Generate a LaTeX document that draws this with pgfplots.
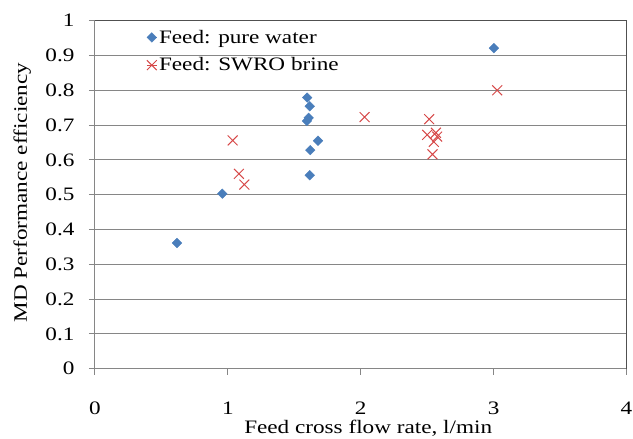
\documentclass[border=0pt]{standalone}
\usepackage{pgfplots}
\pgfplotsset{compat=1.18}
\usepackage{fontspec}
\setmainfont{Liberation Serif}[FakeStretch=1.22]
\definecolor{xlblue}{RGB}{74,126,187}
\definecolor{xlred}{RGB}{214,72,72}
\definecolor{gridgray}{RGB}{134,134,134}
\definecolor{framegray}{RGB}{80,80,80}
\begin{document}
\begin{tikzpicture}
\useasboundingbox (-95pt,-70.3pt) rectangle (538pt,368.7pt);
\begin{axis}[
  at={(0,0)}, anchor=south west,
  scale only axis,
  width=531.5pt, height=348pt,
  xmin=0, xmax=4, ymin=0, ymax=1,
  xtick={0,1,2,3,4},
  ytick={0,0.1,...,1.0},
  yticklabels={0,0.1,0.2,0.3,0.4,0.5,0.6,0.7,0.8,0.9,1},
  /pgf/number format/assume math mode=true,
  font=\fontsize{19}{22}\selectfont,
  tick label style={font=\fontsize{19}{22}\selectfont},
  axis x line*=bottom, axis y line*=left,
  axis line style={gridgray, line width=1pt, -},
  tick style={gridgray, line width=1pt},
  tick align=outside,
  major tick length=6pt,
  ymajorgrids, grid style={gridgray, line width=1pt},
  xticklabel style={yshift=-24pt},
  yticklabel style={xshift=-11pt},
  xlabel={Feed cross flow rate, l/min},
  ylabel={MD Performance efficiency},
  xlabel style={at={(axis description cs:0.514,0)}, anchor=base, yshift=-65pt},
  ylabel style={at={(axis description cs:-0.137,0.506)}, anchor=center},
  legend style={at={(0.093,0.985)}, anchor=north west, draw=none, fill=none,
    font=\fontsize{19}{22}\selectfont, row sep=9pt, inner sep=2pt},
  legend cell align=left,
  legend image code/.code={\path (0pt,0pt) -- (10pt,0pt); \draw[#1] plot coordinates {(5pt,0pt)};},
  clip=false,
  after end axis/.code={
    \draw[framegray, line width=1pt] (rel axis cs:0,1) -- (rel axis cs:1,1) -- (rel axis cs:1,0);
  },
]
\addplot[only marks, mark=square*, mark size=3.4pt, color=xlblue, mark options={rotate=45}] coordinates {
  (0.617,0.361) (0.958,0.503) (1.597,0.779) (1.616,0.754) (1.608,0.721)
  (1.595,0.712) (1.678,0.655) (1.620,0.628) (1.616,0.556) (3.002,0.921)
};
\addlegendentry{Feed: pure water}
\addplot[only marks, mark=x, mark size=7pt, color=xlred, mark options={line width=1pt}] coordinates {
  (1.036,0.656) (1.083,0.560) (1.124,0.529) (2.029,0.723) (2.515,0.717)
  (3.027,0.800) (2.500,0.672) (2.566,0.678) (2.575,0.667) (2.550,0.652)
  (2.540,0.616)
};
\addlegendentry{Feed: SWRO brine}
\end{axis}
\end{tikzpicture}
\end{document}
